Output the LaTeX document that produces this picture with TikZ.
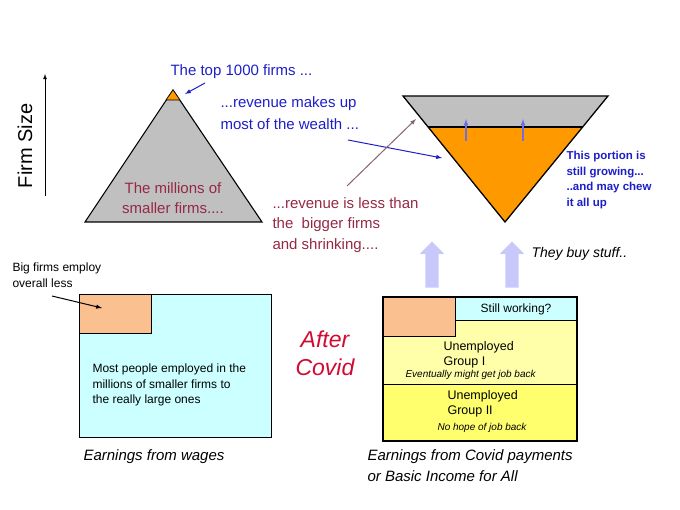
\documentclass[tikz,border=0pt]{standalone}
\usepackage{fontspec}
\setmainfont{Liberation Sans}
\usetikzlibrary{shapes.arrows}
\definecolor{firmblue}{RGB}{30,30,200}
\definecolor{firmred}{RGB}{150,40,70}
\definecolor{covidred}{RGB}{210,10,50}
\definecolor{firmgray}{RGB}{192,192,192}
\definecolor{firmorange}{RGB}{255,153,0}
\definecolor{peach}{RGB}{250,192,144}
\definecolor{palecyan}{RGB}{204,255,255}
\definecolor{paleyellow}{RGB}{255,255,170}
\definecolor{midyellow}{RGB}{255,255,110}
\definecolor{lilac}{RGB}{200,200,250}
\definecolor{growblue}{RGB}{110,110,230}
\begin{document}
\begin{tikzpicture}[x=1pt,y=-1pt,inner sep=0pt,line width=1.1pt]
\tikzstyle{bluetext}=[text=firmblue,anchor=west,align=left,font=\fontsize{15}{22}\selectfont]
\tikzstyle{redtext}=[text=firmred,align=left,font=\fontsize{15}{20.5}\selectfont]
\tikzstyle{smalltext}=[anchor=west,align=left,font=\fontsize{12}{15.5}\selectfont]
\tikzstyle{tinytext}=[font=\fontsize{10}{12}\itshape\selectfont]
\tikzstyle{caption}=[anchor=west,align=left,font=\fontsize{15}{21}\itshape\selectfont]
\tikzstyle{block}=[draw,anchor=north west,minimum width=72,minimum height=39]
\tikzstyle{fatarrow}=[single arrow,fill=lilac,rotate=90,minimum height=46,
  minimum width=23,single arrow head extend=5.5,inner sep=6pt]
\useasboundingbox (0,0) rectangle (680,510);
\node[rotate=90,font=\fontsize{20}{20}\selectfont] (firmsize) at (25,146) {Firm Size};
\coordinate (axisfoot) at (45,196);
\coordinate (axishead) at (45,74);
\draw[line width=0.8pt,-latex] (axisfoot) -- (axishead);
\coordinate (apex) at (173,90);
\coordinate (baseL) at (85,222);
\coordinate (baseR) at (262,222);
\coordinate (tipL) at (166,100);
\coordinate (tipR) at (180,100);
\draw[fill=firmgray] (apex) -- (baseL) -- (baseR) -- cycle;
\draw[fill=firmorange,line width=0.6pt] (apex) -- (tipL) -- (tipR) -- cycle;
\node[bluetext] (top) at (170,72) {The top 1000 firms ...};
\coordinate (topfrom) at (205,83);
\coordinate (topto) at (185,94);
\draw[firmblue,line width=1pt,-latex] (topfrom) -- (topto);
\node[redtext,align=center] (millions) at (173,198) {The millions of\\smaller firms....};
\node[bluetext] (wealth) at (220,113) {...revenue makes up\\most of the wealth ...};
\node[redtext,anchor=west] (less) at (272,225) {...revenue is less than\\the~~bigger firms\\and shrinking....};
\coordinate (topL) at (403,96);
\coordinate (topR) at (608,96);
\coordinate (bottom) at (505,222);
\coordinate (cutL) at (428,127);
\coordinate (cutR) at (583,127);
\fill[firmgray] (topL) -- (topR) -- (bottom) -- cycle;
\fill[firmorange] (cutL) -- (cutR) -- (bottom) -- cycle;
\draw (cutL) -- (cutR);
\draw[line width=1.3pt] (topL) -- (topR) -- (bottom) -- cycle;
\coordinate (growA) at (466,141);
\coordinate (growAto) at (466,119);
\coordinate (growB) at (523,141);
\coordinate (growBto) at (523,119);
\draw[growblue,line width=1.2pt,-latex] (growA) -- (growAto);
\draw[growblue,line width=1.2pt,-latex] (growB) -- (growBto);
\coordinate (wealthfrom) at (348,140);
\coordinate (wealthto) at (442,158);
\draw[firmblue,line width=1pt,-latex] (wealthfrom) -- (wealthto);
\coordinate (lessfrom) at (347,186);
\coordinate (lessto) at (416,119);
\draw[gray!70!firmred,line width=1pt,-latex] (lessfrom) -- (lessto);
\node[smalltext,text=firmblue,font=\fontsize{11.5}{15.7}\bfseries\selectfont] (growing) at (566,180)
  {This portion is\\still growing...\\..and may chew\\it all up};
\node[caption,font=\fontsize{14}{14}\itshape\selectfont] (buy) at (531,254) {They buy stuff..};
\node[fatarrow] (buyA) at (432,268) {};
\node[fatarrow] (buyB) at (512,268) {};
\node[smalltext] (bigfirms) at (12,275) {Big firms employ\\overall less};
\node[draw,fill=palecyan,anchor=north west,minimum width=192,minimum height=143] (wages) at (79,294) {};
\node[block,fill=peach] (bigblock) at (wages.north west) {};
\coordinate (bigfrom) at (52,296);
\coordinate (bigto) at (102,308);
\draw[line width=1pt,-latex] (bigfrom) -- (bigto);
\node[smalltext] (most) at (92,385) {Most people employed in the\\millions of smaller firms to\\the really large ones};
\node[caption] (wagecap) at (83,457) {Earnings from wages};
\node[text=covidred,align=center,font=\fontsize{23}{28}\itshape\selectfont] (after) at (325,353) {After\\Covid};
\node[draw,fill=midyellow,anchor=north west,minimum width=193,minimum height=143] (covid) at (383,297) {};
\node[draw,fill=paleyellow,anchor=north west,minimum width=193,minimum height=87] (groupone) at (covid.north west) {};
\node[draw,fill=palecyan,anchor=north east,minimum width=121,minimum height=23] (working) at (covid.north east) {};
\node[block,fill=peach,line width=1.4pt] (covidblock) at (covid.north west) {};
\draw[line width=1.3pt] (covid.north west) rectangle (covid.south east);
\node[font=\fontsize{12}{12}\selectfont] (stillw) at (working.center) {Still working?};
\node[smalltext,font=\fontsize{12.5}{15}\selectfont] (unemp1) at (443,355) {Unemployed\\Group I};
\node[tinytext,anchor=west] (eventually) at (405,375) {Eventually might get job back};
\node[smalltext,font=\fontsize{12.5}{15}\selectfont] (unemp2) at (447,404) {Unemployed\\Group II};
\node[tinytext] (nohope) at (482,428) {No hope of job back};
\node[caption] (covidcap) at (367,466) {Earnings from Covid payments\\or Basic Income for All};
\end{tikzpicture}
\end{document}
